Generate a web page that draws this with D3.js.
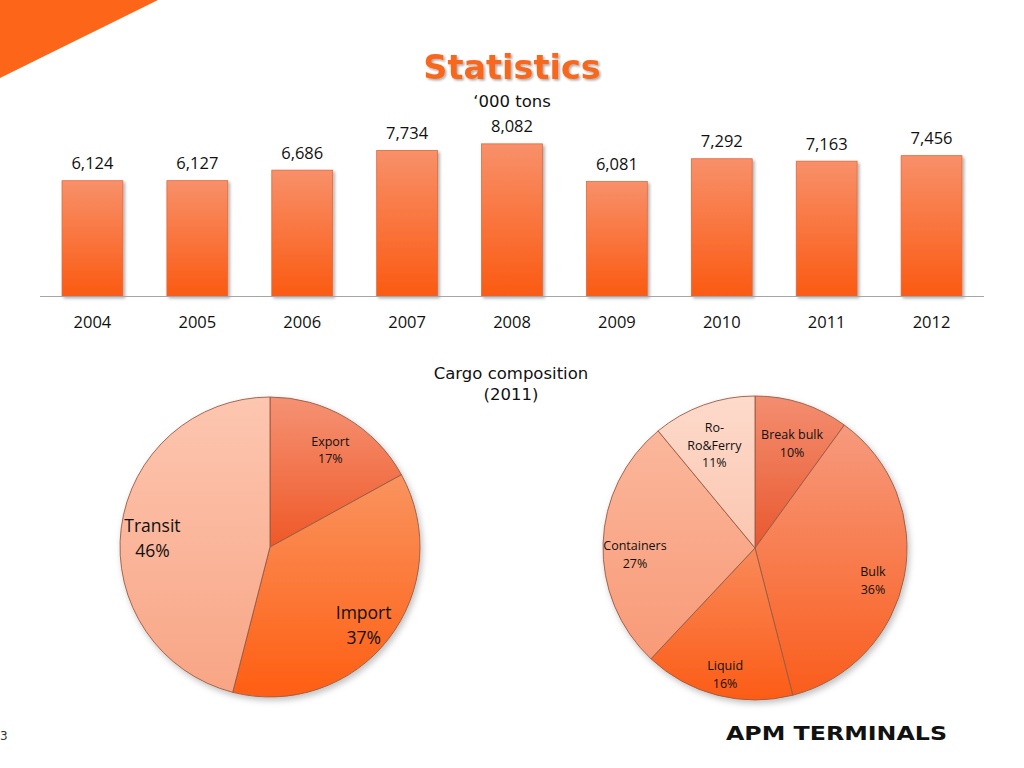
<!DOCTYPE html>
<html>
<head>
<meta charset="utf-8">
<script src="https://cdn.jsdelivr.net/npm/d3@7"></script>
<style>
  body { margin: 0; background: #fff; }
  svg { display: block; }
</style>
</head>
<body>
<svg width="1024" height="768"></svg>
<script>
// throughput per year, '000 tons
const years = ["2004", "2005", "2006", "2007", "2008", "2009", "2010", "2011", "2012"];
const tons = [6124, 6127, 6686, 7734, 8082, 6081, 7292, 7163, 7456];

// cargo composition 2011
const flowNames = [["Export"], ["Import"], ["Transit"]];
const flowShares = [17, 37, 46];
const cargoNames = [["Break bulk"], ["Bulk"], ["Liquid"], ["Containers"], ["Ro-", "Ro&Ferry"]];
const cargoShares = [10, 36, 16, 27, 11];

const svg = d3.select("svg");
const defs = svg.append("defs");
const fmt = d3.format(",");

function gradient(id, top, bottom) {
  const g = defs.append("linearGradient").attr("id", id)
    .attr("x1", 0).attr("y1", 0).attr("x2", 0).attr("y2", 1);
  g.append("stop").attr("offset", "0%").attr("stop-color", top);
  g.append("stop").attr("offset", "100%").attr("stop-color", bottom);
}

function shadow(id, dx, dy, blur, op) {
  defs.append("filter").attr("id", id)
    .attr("x", "-20%").attr("y", "-20%").attr("width", "140%").attr("height", "140%")
    .append("feDropShadow")
    .attr("dx", dx).attr("dy", dy).attr("stdDeviation", blur)
    .attr("flood-color", "#000").attr("flood-opacity", op);
}

gradient("barGrad", "#f8906a", "#fb5a12");
shadow("barShadow", 2, 2, 1.5, 0.3);
shadow("pieShadow", 2, 3, 3, 0.25);
shadow("titleShadow", 1.5, 1.5, 1, 0.35);

// corner decoration
svg.append("polygon")
  .attr("points", "0,0 158,0 0,78")
  .attr("fill", "#fd6519");

// title
svg.append("text")
  .attr("x", 512).attr("y", 67)
  .attr("text-anchor", "middle").attr("dominant-baseline", "central")
  .attr("font-family", "DejaVu Sans").attr("font-weight", "bold")
  .attr("font-size", 33.5).attr("fill", "#f7671f")
  .attr("filter", "url(#titleShadow)")
  .text("Statistics");

svg.append("text")
  .attr("x", 512).attr("y", 101)
  .attr("text-anchor", "middle").attr("dominant-baseline", "central")
  .attr("font-family", "DejaVu Sans").attr("font-size", 16.5).attr("fill", "#111")
  .text("\u2018000 tons");

// bar chart
const x = d3.scaleBand()
  .domain(years)
  .range([40, 984])
  .paddingInner(0.42)
  .paddingOuter(0.21);

const y = d3.scaleLinear()
  .domain([0, 8500])
  .range([296, 136]);

const bars = svg.append("g");

bars.selectAll("rect")
  .data(years)
  .enter().append("rect")
  .attr("x", d => x(d))
  .attr("y", (d, i) => y(tons[i]))
  .attr("width", x.bandwidth())
  .attr("height", (d, i) => y(0) - y(tons[i]))
  .attr("fill", "url(#barGrad)")
  .attr("stroke", "#e0693a").attr("stroke-width", 0.8)
  .attr("filter", "url(#barShadow)");

bars.selectAll(".val")
  .data(years)
  .enter().append("text")
  .attr("class", "val")
  .attr("x", d => x(d) + x.bandwidth() / 2)
  .attr("y", (d, i) => y(tons[i]) - 18)
  .attr("text-anchor", "middle").attr("dominant-baseline", "central")
  .attr("font-family", "Open Sans").attr("font-size", 16.5).attr("fill", "#111")
  .text((d, i) => fmt(tons[i]));

svg.append("line")
  .attr("x1", 40).attr("x2", 984)
  .attr("y1", y(0) + 0.5).attr("y2", y(0) + 0.5)
  .attr("stroke", "#a6a6a6").attr("stroke-width", 1);

const xAxis = svg.append("g")
  .attr("transform", "translate(0," + y(0) + ")")
  .call(d3.axisBottom(x).tickSize(0).tickPadding(22));
xAxis.select(".domain").remove();
xAxis.selectAll("text")
  .attr("font-family", "Open Sans").attr("font-size", 16.5).attr("fill", "#111")
  .attr("dy", "0.6em");

// pies
svg.append("text")
  .attr("x", 511).attr("y", 373)
  .attr("text-anchor", "middle").attr("dominant-baseline", "central")
  .attr("font-family", "DejaVu Sans").attr("font-size", 16.5).attr("fill", "#111")
  .text("Cargo composition");
svg.append("text")
  .attr("x", 511).attr("y", 394)
  .attr("text-anchor", "middle").attr("dominant-baseline", "central")
  .attr("font-family", "DejaVu Sans").attr("font-size", 16.5).attr("fill", "#111")
  .text("(2011)");

const flowColors = [["#f59274", "#ef5827"], ["#f9945f", "#ff5e12"], ["#fdc6b0", "#f8a585"]];
const cargoColors = [["#f38e70", "#e9582f"], ["#f69a7e", "#fa5d1c"], ["#f98a5a", "#fc5c16"],
                     ["#fbb79c", "#f89a77"], ["#fddacb", "#fbc6b0"]];
const flowFont = [12.5, 17.5, 17.5];
const cargoFont = [12.5, 12.5, 12.5, 12.5, 12.5];

function drawPie(cx, cy, r, names, shares, colors, fonts, key, drop) {
  const g = svg.append("g").attr("transform", "translate(" + cx + "," + cy + ")");

  colors.forEach((c, i) => gradient(key + i, c[0], c[1]));

  const pie = d3.pie().sort(null).value(d => d);
  const arcs = pie(shares);
  const arc = d3.arc().innerRadius(0).outerRadius(r);
  const labelArc = d3.arc().innerRadius(r * 0.79).outerRadius(r * 0.79);

  g.append("g").attr("filter", "url(#pieShadow)")
    .selectAll("path")
    .data(arcs)
    .enter().append("path")
    .attr("d", arc)
    .attr("fill", (d, i) => "url(#" + key + i + ")")
    .attr("stroke", "#9a5a42").attr("stroke-width", 0.9)
    .attr("stroke-linejoin", "round");

  arcs.forEach((d, i) => {
    const [lx, ly] = labelArc.centroid(d);
    const lines = names[i].concat([shares[i] + "%"]);
    const lh = fonts[i] * 1.42;
    const t = g.append("text")
      .attr("text-anchor", "middle")
      .attr("font-family", "Open Sans").attr("font-size", fonts[i]).attr("fill", "#111");
    lines.forEach((s, k) => {
      t.append("tspan")
        .attr("x", lx)
        .attr("y", ly + drop + (k - (lines.length - 1) / 2) * lh)
        .attr("dominant-baseline", "central")
        .text(s);
    });
  });
}

drawPie(270, 547, 150, flowNames, flowShares, flowColors, flowFont, "flow", 5);
drawPie(755, 548, 152, cargoNames, cargoShares, cargoColors, cargoFont, "cargo", 10);

// footer
svg.append("text")
  .attr("x", 726).attr("y", 733)
  .attr("dominant-baseline", "central")
  .attr("font-family", "DejaVu Sans").attr("font-weight", "bold")
  .attr("font-size", 19).attr("fill", "#111")
  .attr("textLength", 221).attr("lengthAdjust", "spacingAndGlyphs")
  .text("APM TERMINALS");

svg.append("text")
  .attr("x", 0).attr("y", 736)
  .attr("dominant-baseline", "central")
  .attr("font-family", "DejaVu Sans").attr("font-size", 12).attr("fill", "#333")
  .text("3");
</script>
</body>
</html>
